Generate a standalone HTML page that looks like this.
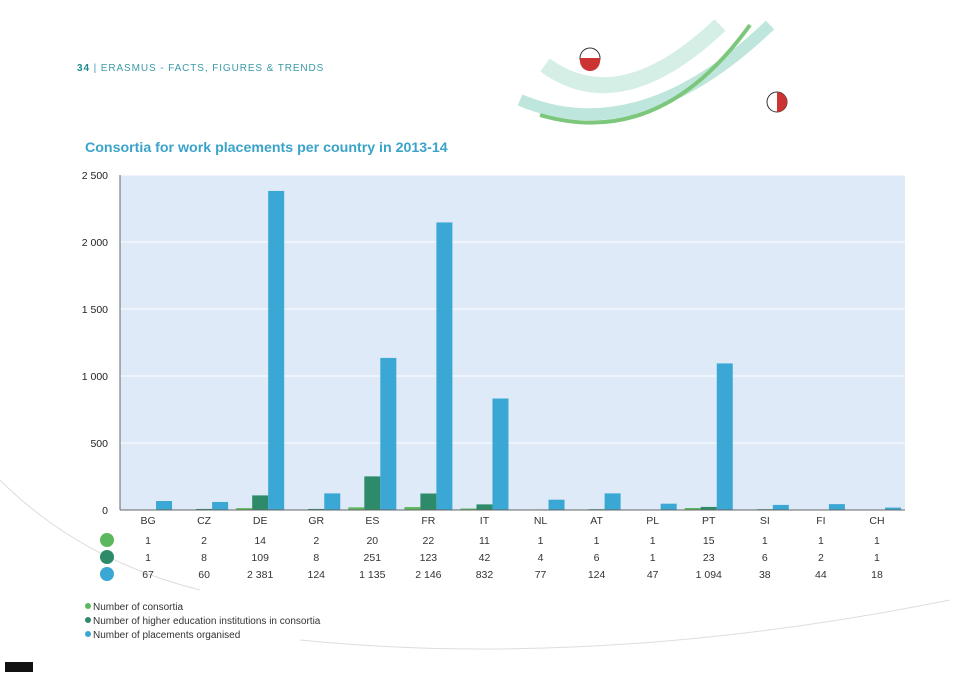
<!DOCTYPE html>
<html><head><meta charset="utf-8"><style>
body{margin:0;background:#fff;font-family:"Liberation Sans",sans-serif}
#wrap{position:relative;width:960px;height:679px;overflow:hidden;background:#fff}
</style></head><body>
<div id="wrap">
<svg id="chart" width="960" height="679">
<g fill="none">
<path d="M520 100 Q640 150 770 25" stroke="#bfe6dc" stroke-width="12"/>
<path d="M540 115 Q660 150 750 25" stroke="#7cc77c" stroke-width="4"/>
<path d="M545 65 Q620 120 720 25" stroke="#d5efe7" stroke-width="16"/>
<path d="M0 480 Q80 560 200 590" stroke="#ddd" stroke-width="1"/>
<path d="M300 640 Q600 670 950 600" stroke="#ddd" stroke-width="1"/>
<circle cx="590" cy="58" r="10" fill="#fff" stroke="#333"/>
<path d="M580 58 h20 v3 a10 10 0 0 1 -20 0z" fill="#c33"/>
<circle cx="777" cy="102" r="10" fill="#fff" stroke="#333"/>
<path d="M777 92 a10 10 0 0 1 0 20z" fill="#c33"/>
<rect x="5" y="662" width="28" height="10" fill="#111"/>
</g>
<text x="77" y="71" font-size="10" fill="#3a9aa8" letter-spacing="0.9"><tspan font-weight="bold" fill="#1d8a8a">34 </tspan>| ERASMUS - FACTS, FIGURES &amp; TRENDS</text>
<text x="85" y="152" font-size="14.2" font-weight="bold" fill="#3aa3c9">Consortia for work placements per country in 2013-14</text>
<rect x="120" y="175" width="785" height="335" fill="#dfeaf8"/>
<g id="grid"></g><g id="bars"></g><g id="labels"></g>
<line x1="120" y1="175" x2="120" y2="510" stroke="#666"/>
<line x1="120" y1="510" x2="905" y2="510" stroke="#666"/>
<g font-size="10" fill="#333">
<circle cx="88" cy="606" r="3" fill="#5cb85c"/>
<text x="93" y="610">Number of consortia</text>
<circle cx="88" cy="620" r="3" fill="#2e8b6a"/>
<text x="93" y="624">Number of higher education institutions in consortia</text>
<circle cx="88" cy="634" r="3" fill="#3aa7d4"/>
<text x="93" y="638">Number of placements organised</text>
</g>
</svg>
</div>
<script>
const categories=["BG","CZ","DE","GR","ES","FR","IT","NL","AT","PL","PT","SI","FI","CH"];
const consortia=[1,2,14,2,20,22,11,1,1,1,15,1,1,1];
const institutions=[1,8,109,8,251,123,42,4,6,1,23,6,2,1];
const placements=[67,60,2381,124,1135,2146,832,77,124,47,1094,38,44,18];
const yTicks=[0,500,1000,1500,2000,2500];
const yTickLabels=["0","500","1 000","1 500","2 000","2 500"];
const colors=["#5cb85c","#2e8b6a","#3aa7d4"];
const NS="http://www.w3.org/2000/svg";
const x0=120,w=785,y0=510,h=335,yMax=2500;
const y=v=>y0-v/yMax*h;
const xc=i=>x0+w/categories.length*(i+0.5);
const fmt=v=>String(v).replace(/\B(?=(\d{3})+(?!\d))/g," ");
function mk(tag,attrs,parent,text){const e=document.createElementNS(NS,tag);for(const k in attrs)e.setAttribute(k,attrs[k]);if(text!==undefined)e.textContent=text;document.getElementById(parent).appendChild(e);return e;}
yTicks.forEach((t,i)=>{
  if(t>0){const g=mk("line",{x1:x0,x2:x0+w,y1:y(t),y2:y(t),stroke:"#fff","stroke-width":1},"grid");
  
  }
  const l=mk("text",{x:108,y:y(t)+4,"text-anchor":"end","font-size":"10.5",fill:"#222"},"labels",yTickLabels[i]);
  
  
});
const series=[consortia,institutions,placements];
const names=["consortia","institutions","placements"];
categories.forEach((c,i)=>{
  series.forEach((s,j)=>{
    const r=mk("rect",{x:xc(i)-24+16*j,y:y(s[i]),width:16,height:y0-y(s[i]),fill:colors[j]},"bars");
    
    
    const t=mk("text",{x:xc(i),y:544+j*17,"text-anchor":"middle","font-size":"10.5",fill:"#333"},"labels",fmt(s[i]));
    
    
  });
  const l=mk("text",{x:xc(i),y:524,"text-anchor":"middle","font-size":"10.5",fill:"#333"},"labels",c);
  
  
});
colors.forEach((col,j)=>{
  const d=mk("circle",{cx:107,cy:540+j*17,r:7,fill:col},"labels");
  
  
});
</script>
</body></html>
